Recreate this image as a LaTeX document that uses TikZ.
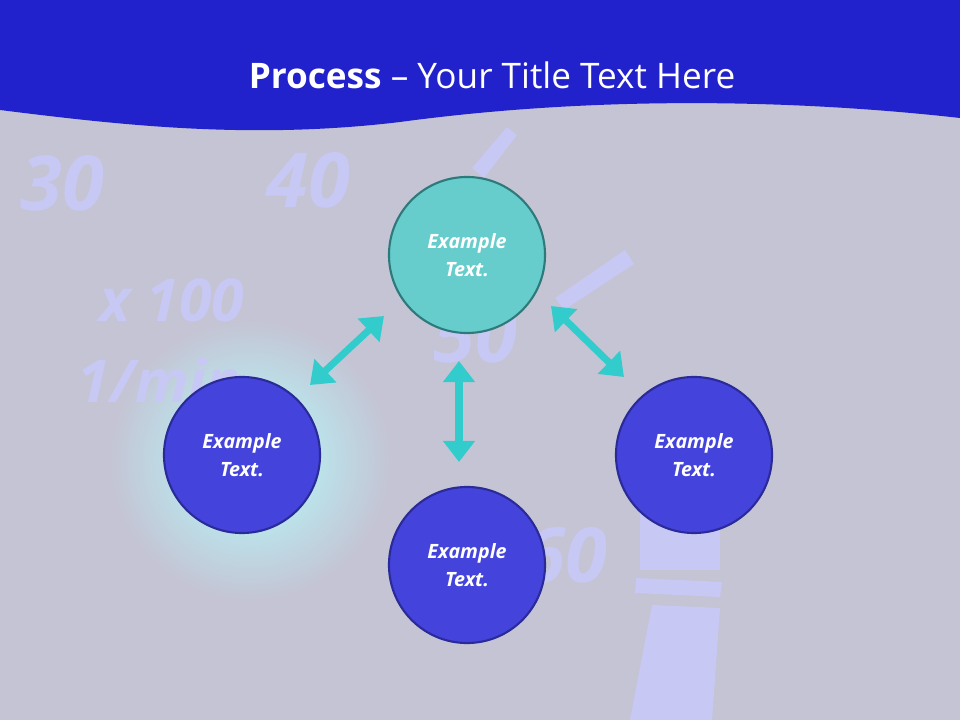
\documentclass[tikz,border=0pt]{standalone}
\usepackage{fontspec}
\setmainfont{Open Sans}
\usetikzlibrary{arrows.meta}
\definecolor{bg}{HTML}{C4C4D4}
\definecolor{hdr}{HTML}{2222CC}
\definecolor{teal}{HTML}{66CCCC}
\definecolor{tealb}{HTML}{2E7A7A}
\definecolor{blu}{HTML}{4444DD}
\definecolor{blub}{HTML}{2A2A99}
\definecolor{arr}{HTML}{33CCCC}
\definecolor{deco}{HTML}{C8C8F4}
\begin{document}
\begin{tikzpicture}[x=0.025cm,y=-0.025cm,
  circ/.style={circle,line width=1.5pt,text=white,font=\fontsize{14}{20}\selectfont\bfseries\itshape,align=center,minimum size=3.9cm,inner sep=0pt},
  dbl/.style={line width=5pt,arr,{Triangle[length=15pt,width=22pt]}-{Triangle[length=15pt,width=22pt]}},
  num/.style={text=deco,font=\fontsize{54}{54}\selectfont\bfseries\itshape}]
\useasboundingbox (0,0) rectangle (960,720);
\fill[bg] (0,0) rectangle (960,720);
% glow
\shade[inner color=cyan!30!white,outer color=bg] (250,460) circle[radius=140];
\fill[deco] (640,500) -- (720,500) -- (720,570) -- (640,570) -- cycle;
\fill[deco] (636,578) -- (722,582) -- (720,597) -- (635,593) -- cycle;
\fill[deco] (652,605) -- (720,608) -- (712,720) -- (630,720) -- cycle;
\fill[deco] (555,298) -- (625,250) -- (634,264) -- (564,310) -- cycle;
\fill[deco] (472,168) -- (507,127) -- (517,135) -- (484,178) -- cycle;
\node[num] at (62,183) {30};
\node[num] at (308,180) {40};
\node[num,font=\fontsize{42}{42}\selectfont\bfseries\itshape] at (172,300) {x 100};
\node[num,font=\fontsize{42}{42}\selectfont\bfseries\itshape] at (160,380) {1/min};
\node[num] at (475,335) {50};
\node[num] at (565,555) {60};
% header
\fill[hdr] (0,0) -- (960,0) -- (960,118) .. controls (800,100) and (600,95) .. (400,122) .. controls (250,140) and (120,125) .. (0,110) -- cycle;
\node[text=white,font=\fontsize{25}{30}\selectfont] (title) at (492,75) {\textbf{Process} – Your Title Text Here};
% circles
\node[circ,fill=teal,draw=tealb] (t) at (467,255) {Example\\Text.};
\node[circ,fill=blu,draw=blub] (l) at (242,455) {Example\\Text.};
\node[circ,fill=blu,draw=blub] (b) at (467,565) {Example\\Text.};
\node[circ,fill=blu,draw=blub] (r) at (694,455) {Example\\Text.};
\coordinate (a1) at (310,385); \coordinate (a2) at (384,316);
\coordinate (b1) at (551,306); \coordinate (b2) at (624,377);
\coordinate (c1) at (459,361); \coordinate (c2) at (459,462);
\draw[dbl] (a1) -- (a2);
\draw[dbl] (b1) -- (b2);
\draw[dbl] (c1) -- (c2);
\end{tikzpicture}
\end{document}
